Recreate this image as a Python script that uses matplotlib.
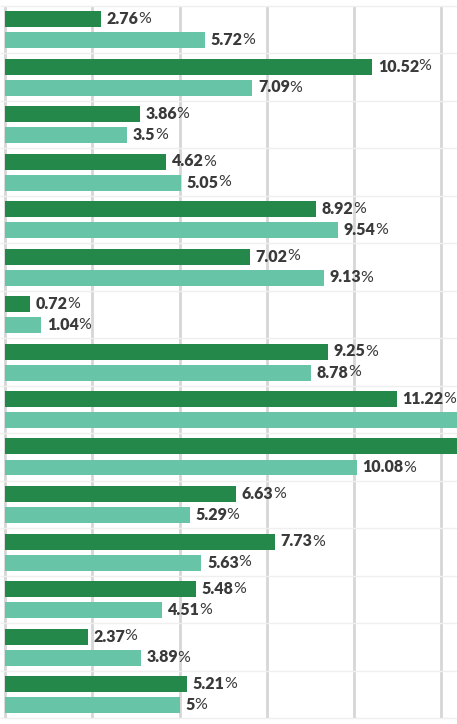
import matplotlib
matplotlib.use("Agg")
import matplotlib.pyplot as plt
import numpy as np

# Data (top to bottom)
series_dark = [2.76, 10.52, 3.86, 4.62, 8.92, 7.02, 0.72, 9.25, 11.22, 13.9, 6.63, 7.73, 5.48, 2.37, 5.21]
series_light = [5.72, 7.09, 3.5, 5.05, 9.54, 9.13, 1.04, 8.78, 13.4, 10.08, 5.29, 5.63, 4.51, 3.89, 5.0]
label_dark = ["2.76", "10.52", "3.86", "4.62", "8.92", "7.02", "0.72", "9.25", "11.22", "13.9", "6.63", "7.73", "5.48", "2.37", "5.21"]
label_light = ["5.72", "7.09", "3.5", "5.05", "9.54", "9.13", "1.04", "8.78", "13.4", "10.08", "5.29", "5.63", "4.51", "3.89", "5"]
x_ticks = [0, 2.5, 5, 7.5, 10, 12.5]

DARK = "#23884a"
LIGHT = "#68c4a6"
TEXT = "#3a3a3a"

W, H = 457, 724
fig = plt.figure(figsize=(W / 100, H / 100), dpi=100)
ax = fig.add_axes([0, 0, 1, 1])

px_per_unit = 34.9
zero_px = 5.0
xmax = (W - zero_px) / px_per_unit
ax.set_xlim(-zero_px / px_per_unit, xmax)
group_px = 47.5
first_center = 29.5
ax.set_ylim((H - first_center) / group_px, -first_center / group_px)

n = len(series_dark)
pos = np.arange(n)
off = 10.5 / group_px
bh = 16 / group_px

ax.barh(pos - off, series_dark, height=bh, color=DARK, zorder=3)
ax.barh(pos + off, series_light, height=bh, color=LIGHT, zorder=3)

# grid
ax.vlines(x_ticks, -0.5, n - 0.5, color="#d6d6d6", lw=2, zorder=1)
ax.hlines(np.arange(n + 1) - 0.5, ax.get_xlim()[0], ax.get_xlim()[1], color="#efefef", lw=1, zorder=1)

for s in ax.spines.values():
    s.set_visible(False)
ax.set_xticks([])
ax.set_yticks([])

fam = ["Lato", "DejaVu Sans"]
fs = 11.5
texts = []
for vals, labs, sign in ((series_dark, label_dark, -1), (series_light, label_light, 1)):
    for i, (v, l) in enumerate(zip(vals, labs)):
        if v >= xmax:
            continue  # label lies beyond the visible canvas
        t = ax.annotate(l, (v, i + sign * off), xytext=(4, 0), textcoords="offset points",
                        ha="left", va="center", fontsize=fs, fontweight="heavy",
                        color=TEXT, family=fam, zorder=4)
        texts.append(t)

fig.canvas.draw()
for t in texts:
    ax.annotate("%", xy=(1, 0.5), xycoords=t, xytext=(-0.3, 0), textcoords="offset points",
                ha="left", va="center", fontsize=fs, fontweight="normal",
                color=TEXT, family=fam, zorder=4)

fig.savefig("out.png", dpi=100)
